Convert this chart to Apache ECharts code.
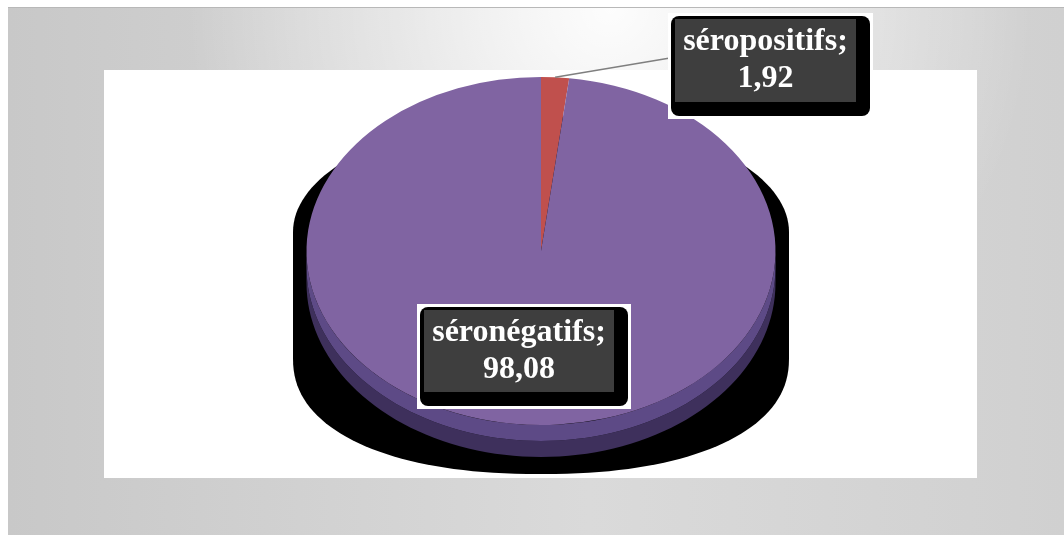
<!DOCTYPE html>
<html>
<head>
<meta charset="utf-8">
<script src="https://cdn.jsdelivr.net/npm/echarts@6/dist/echarts.min.js"></script>
<style>
html,body{margin:0;padding:0;background:#fff;}
#chart{width:1064px;height:535px;}
</style>
</head>
<body>
<div id="chart"></div>
<script>
// ---- data ----
const categories = ['séropositifs', 'séronégatifs'];
const values = [1.92, 98.08];

// ---- styles / layout ----
const sliceColors = ['#C0504D', '#8064A2'];
const PIE = { cx: 541, cy: 251, rx: 234.5, ry: 174, depth: 32 };
const SHADOW = { rx: 248, ry: 116, top: 232, bottom: 358, n: 2.25 };
const SIDE_COLORS = ['#5d4a86', '#3e305c'];
const LABEL_BOX = [
  { x: 668, y: 13, w: 205, h: 106, leader: true },
  { x: 417, y: 304, w: 214, h: 105, leader: false }
];

const total = values.reduce((a, b) => a + b, 0);
const angles = (function () {
  let a = -Math.PI / 2;
  return values.map(v => { const s = a; a += v / total * Math.PI * 2; return [s, a]; });
})();
const fmt = v => v.toFixed(2).replace('.', ',');

function ellPts(cx, cy, rx, ry, t0, t1, n, p) {
  const e = 2 / (p || 2);
  const pts = [];
  for (let i = 0; i <= n; i++) {
    const t = t0 + (t1 - t0) * i / n;
    const c = Math.cos(t), s = Math.sin(t);
    pts.push([cx + rx * Math.sign(c) * Math.pow(Math.abs(c), e), cy + ry * Math.sign(s) * Math.pow(Math.abs(s), e)]);
  }
  return pts;
}

const chart = echarts.init(document.getElementById('chart'), null, { renderer: 'canvas' });

const option = {
  backgroundColor: '#ffffff',
  animation: false,
  graphic: [
    { type: 'rect', z: 0, shape: { x: 8, y: 7, width: 1056, height: 528 },
      style: { fill: new echarts.graphic.LinearGradient(0, 0, 1, 0, [
        { offset: 0, color: '#c8c8c8' },
        { offset: 0.55, color: '#dadada' },
        { offset: 1, color: '#d0d0d0' }
      ]) } },
    { type: 'rect', z: 0, shape: { x: 8, y: 7, width: 1056, height: 528 },
      style: { fill: new echarts.graphic.RadialGradient(0.57, 0.0, 0.8, [
        { offset: 0, color: 'rgba(255,255,255,0.95)' },
        { offset: 0.5, color: 'rgba(255,255,255,0.45)' },
        { offset: 1, color: 'rgba(255,255,255,0)' }
      ]) } },
    { type: 'line', z: 0, shape: { x1: 8, y1: 7.5, x2: 1064, y2: 7.5 }, style: { stroke: '#b8b8b8', lineWidth: 1 } },
    { type: 'rect', z: 0, shape: { x: 104, y: 70, width: 873, height: 408 }, style: { fill: '#ffffff' } }
  ],
  series: [
    {
      type: 'custom', name: 'volume', coordinateSystem: 'none', z: 2, silent: true,
      data: [total],
      renderItem: function (params, api) {
        const sh = ellPts(PIE.cx, SHADOW.top, SHADOW.rx, SHADOW.ry, Math.PI, 2 * Math.PI, 80)
          .concat(ellPts(PIE.cx, SHADOW.bottom, SHADOW.rx, SHADOW.ry, 0, Math.PI, 80, SHADOW.n));
        const half = PIE.depth / 2;
        const band1 = ellPts(PIE.cx, PIE.cy + half, PIE.rx, PIE.ry, 0, Math.PI, 80)
          .concat(ellPts(PIE.cx, PIE.cy, PIE.rx, PIE.ry, Math.PI, 0, 80));
        const band2 = ellPts(PIE.cx, PIE.cy + PIE.depth, PIE.rx, PIE.ry, 0, Math.PI, 80)
          .concat(ellPts(PIE.cx, PIE.cy + half, PIE.rx, PIE.ry, Math.PI, 0, 80));
        return {
          type: 'group',
          children: [
            { type: 'polygon', shape: { points: sh }, style: { fill: '#000000' } },
            { type: 'polygon', shape: { points: band2 }, style: { fill: SIDE_COLORS[1] } },
            { type: 'polygon', shape: { points: band1 }, style: { fill: SIDE_COLORS[0] } }
          ]
        };
      }
    },
    {
      type: 'custom', name: 'pie', coordinateSystem: 'none', z: 3, silent: true,
      data: values.map((v, i) => ({ name: categories[i], value: v })),
      renderItem: function (params, api) {
        const i = params.dataIndex;
        const [s, e] = angles[i];
        return {
          type: 'sector', x: PIE.cx, y: PIE.cy, scaleY: PIE.ry / PIE.rx,
          shape: { cx: 0, cy: 0, r: PIE.rx, r0: 0, startAngle: s, endAngle: e, clockwise: true },
          style: { fill: sliceColors[i] }
        };
      }
    },
    {
      type: 'custom', name: 'labels', coordinateSystem: 'none', z: 4, silent: true,
      data: values.map((v, i) => ({ name: categories[i], value: v })),
      renderItem: function (params, api) {
        const i = params.dataIndex;
        const b = LABEL_BOX[i];
        const [s, e] = angles[i];
        const m = (s + e) / 2;
        const children = [];
        if (b.leader) {
          children.push({ type: 'line',
            shape: { x1: PIE.cx + PIE.rx * Math.cos(m), y1: PIE.cy + PIE.ry * Math.sin(m), x2: b.x + 2, y2: b.y + 45 },
            style: { stroke: '#7f7f7f', lineWidth: 1.5 } });
        }
        const bx = b.x + 3, by = b.y + 3, bw = b.w - 6, bh = b.h - 6;
        const gx = bx + 4, gy = by + 3, gw = bw - 18, gh = bh - 17;
        children.push(
          { type: 'rect', shape: { x: b.x, y: b.y, width: b.w, height: b.h }, style: { fill: '#ffffff' } },
          { type: 'rect', shape: { x: bx, y: by, width: bw, height: bh, r: 8 }, style: { fill: '#000000' } },
          { type: 'rect', shape: { x: gx, y: gy, width: gw, height: gh }, style: { fill: '#3e3e3e' } },
          { type: 'text', x: gx + gw / 2, y: gy + gh / 2,
            style: { text: categories[i] + ';\n' + fmt(values[i]), fill: '#ffffff',
              fontFamily: 'Liberation Serif', fontWeight: 'bold', fontSize: 32, lineHeight: 37,
              align: 'center', verticalAlign: 'middle' } }
        );
        return { type: 'group', children: children };
      }
    }
  ]
};
chart.setOption(option);
</script>
</body>
</html>
